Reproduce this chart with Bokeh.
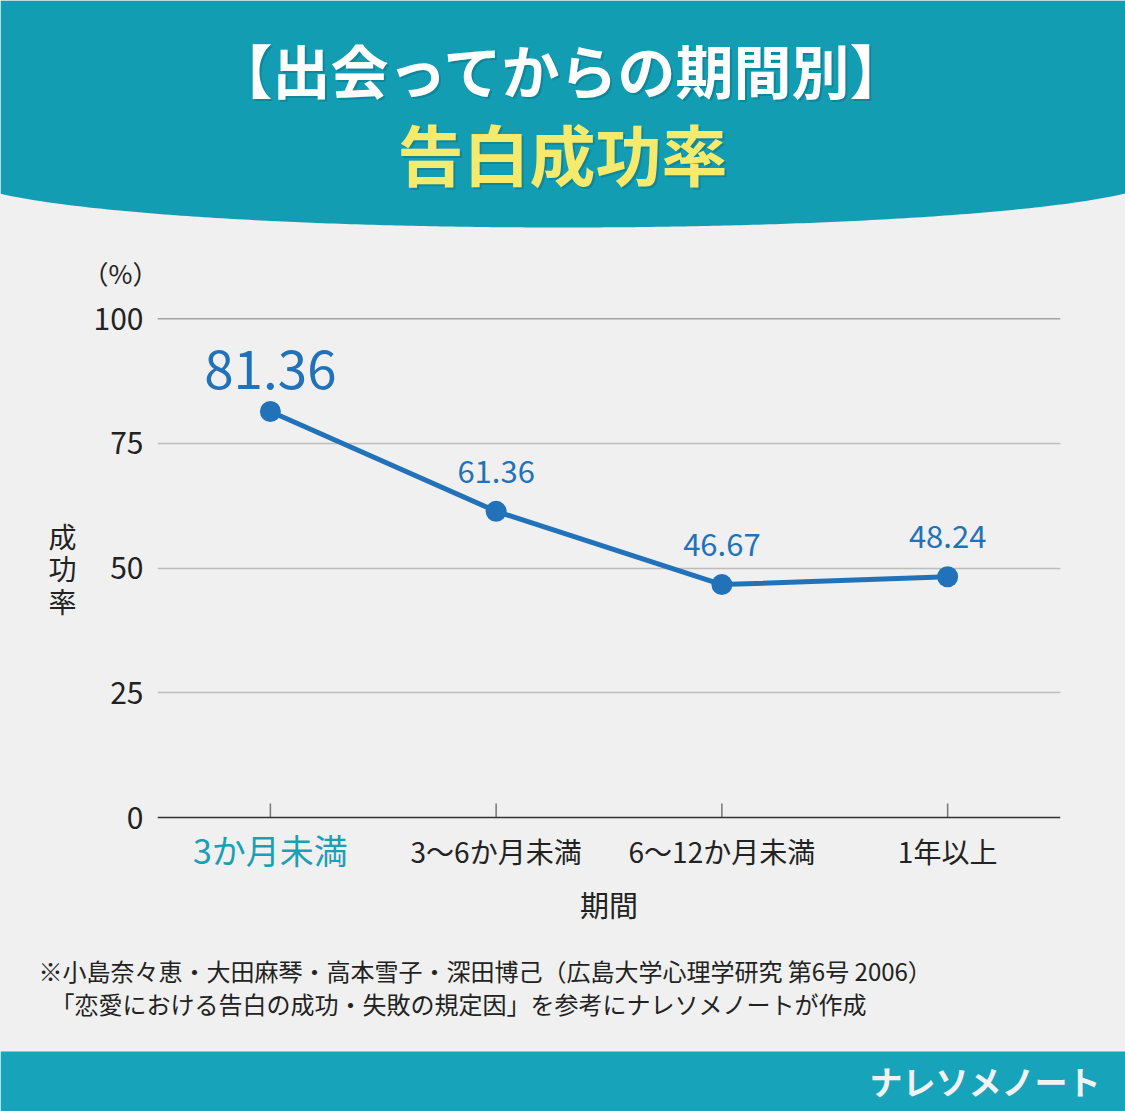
import numpy as np
from bokeh.plotting import figure
from bokeh.layouts import column, row
from bokeh.models import FactorRange, Range1d, FixedTicker, Span
from bokeh.core.properties import value
from bokeh.embed import file_html
from bokeh.resources import INLINE

# data
periods = ["3か月未満", "3〜6か月未満", "6〜12か月未満", "1年以上"]
rates = [81.36, 61.36, 46.67, 48.24]
y_ticks = [0, 25, 50, 75, 100]

title_top = "【出会ってからの期間別】"
title_main = "告白成功率"
y_title = "成功率"
x_title = "期間"
unit = "（%）"
notes = ["※小島奈々恵・大田麻琴・高本雪子・深田博己（広島大学心理学研究 第6号 2006）",
         "「恋愛における告白の成功・失敗の規定因」を参考にナレソメノートが作成"]
brand = "ナレソメノート"

JP = "Noto Sans CJK JP"
BG = "#f0f0f0"
TEAL = "#139db3"
BLUE = "#2272b9"
INK = "#222222"
W = 1125
SPLIT = 294   # page row where the header canvas ends and the chart row begins


def style(f):
    f.grid.visible = False
    f.outline_line_color = None
    f.background_fill_color = BG
    f.border_fill_color = BG
    return f


def blank(width, height, x0, x1, y0, y1, **kw):
    # pixel-like canvas: y grows downward
    f = figure(width=width, height=height, x_range=Range1d(x0, x1), y_range=Range1d(y1, y0),
               x_axis_type=None, y_axis_type=None, toolbar_location=None,
               output_backend="svg", min_border=0, frame_align=False, **kw)
    return style(f)


# ---- header banner (+ unit caption)
head = blank(W, SPLIT, 0, W, 0, SPLIT)
xs = np.linspace(0, W, 200)
bottom = 175 + 52 * np.sqrt(np.clip(1 - ((xs - 562) / 600) ** 2, 0, None))
head.patch(np.r_[0, xs, W], np.r_[0, bottom, 0], fill_color=TEAL, line_color=None)
for dx, col, a in [(2, "#0a6b7a", 0.45), (0, "white", 1.0)]:
    head.text(x=[562 + dx], y=[68 + dx], text=[title_top], text_align="center",
              text_baseline="middle", text_font=value(JP), text_font_size="58px",
              text_font_style="bold", text_color=col, text_alpha=a)
for dx, col, a in [(2, "#0a6b7a", 0.45), (0, "#f6ea6c", 1.0)]:
    head.text(x=[562 + dx], y=[151 + dx], text=[title_main], text_align="center",
              text_baseline="middle", text_font=value(JP), text_font_size="66px",
              text_font_style="bold", text_color=col, text_alpha=a)
head.text(x=[120], y=[272], text=[unit], text_align="center", text_baseline="middle",
          text_font=value(JP), text_font_size="26px", text_color=INK)

# ---- side caption (y title, stacked)
side = blank(88, 940 - SPLIT, 0, 88, SPLIT, 940)
side.text(x=62, y=[535, 567.5, 600], text=list(y_title), text_align="center",
          text_baseline="middle", text_font=value(JP), text_font_size="28px", text_color=INK)

# ---- chart: frame runs from the 100 line down to the x title; 0 sits 123px above its bottom
frame_top, zero_px, frame_bottom = 318, 817, 940
y_lo = -100 * (frame_bottom - zero_px) / (zero_px - frame_top)
xr = FactorRange(*periods)
p = figure(width=W - 88, height=940 - SPLIT, x_range=xr, y_range=Range1d(y_lo, 100),
           x_axis_location=None, toolbar_location=None, output_backend="svg", frame_align=False,
           min_border_left=69, min_border_right=65, min_border_top=frame_top - SPLIT,
           min_border_bottom=0)
style(p)

p.ygrid.visible = True
p.ygrid.ticker = FixedTicker(ticks=y_ticks[1:-1])
p.ygrid.grid_line_color = "#bcbcbc"
p.ygrid.grid_line_width = 1.3
p.add_layout(Span(location=y_ticks[-1], dimension="width", line_color="#555555", line_width=1.3))
p.add_layout(Span(location=y_ticks[0], dimension="width", line_color="#333333", line_width=1.6))

p.yaxis.ticker = FixedTicker(ticks=y_ticks)
p.yaxis.axis_line_color = None
p.yaxis.major_tick_line_color = None
p.yaxis.minor_tick_line_color = None
p.yaxis.major_tick_in = 0
p.yaxis.major_tick_out = 0
p.yaxis.major_label_standoff = 14
p.yaxis.major_label_text_font = JP
p.yaxis.major_label_text_font_size = "30px"
p.yaxis.major_label_text_color = INK

# category ticks rising from the baseline
p.ray(x=periods, y=y_ticks[0], length=14, length_units="screen", angle=np.pi / 2,
      line_color="#777777", line_width=1.5)

p.line(periods, rates, line_color=BLUE, line_width=5)
p.scatter(periods, rates, size=21, fill_color=BLUE, line_color=None)

labels = ["%.2f" % r for r in rates]
p.text(periods[:1], rates[:1], text=labels[:1], text_align="center", text_baseline="middle",
       y_offset=-42, text_font=value(JP), text_font_size="53px", text_color=BLUE)
p.text(periods[1:], rates[1:], text=labels[1:], text_align="center", text_baseline="middle",
       y_offset=-40, text_font=value(JP), text_font_size="31px", text_color=BLUE)

# category labels and x title below the baseline
p.text(periods[:1], y_ticks[0], text=periods[:1], text_align="center", text_baseline="middle",
       y_offset=32, text_font=value(JP), text_font_size="34px", text_color="#1aa0b5")
p.text(periods[1:], y_ticks[0], text=periods[1:], text_align="center", text_baseline="middle",
       y_offset=33, text_font=value(JP), text_font_size="28px", text_color=INK)
p.text(len(periods) / 2, y_ticks[0], text=[x_title], text_align="center",
       text_baseline="middle", y_offset=86, text_font=value(JP), text_font_size="29px",
       text_color=INK)

# ---- footer
foot = blank(W, 171, 0, W, 940, 1111)
foot.text(x=[38], y=[970], text=[notes[0]], text_baseline="middle", text_font=value(JP),
          text_font_size="24px", text_color=INK)
foot.text(x=[50], y=[1003], text=[notes[1]], text_baseline="middle", text_font=value(JP),
          text_font_size="24px", text_color=INK)
foot.quad(left=0, right=W, top=1051, bottom=1111, fill_color="#17a4ba", line_color=None)
foot.text(x=[1100], y=[1080], text=[brand], text_align="right", text_baseline="middle",
          text_font=value(JP), text_font_size="33px", text_font_style="bold",
          text_color="#f2f2f2")

mid = row(side, p, spacing=0, styles={"background-color": BG})
page = column(head, mid, foot, spacing=0, styles={"background-color": BG})
open("out.html", "w").write(file_html(page, INLINE))
